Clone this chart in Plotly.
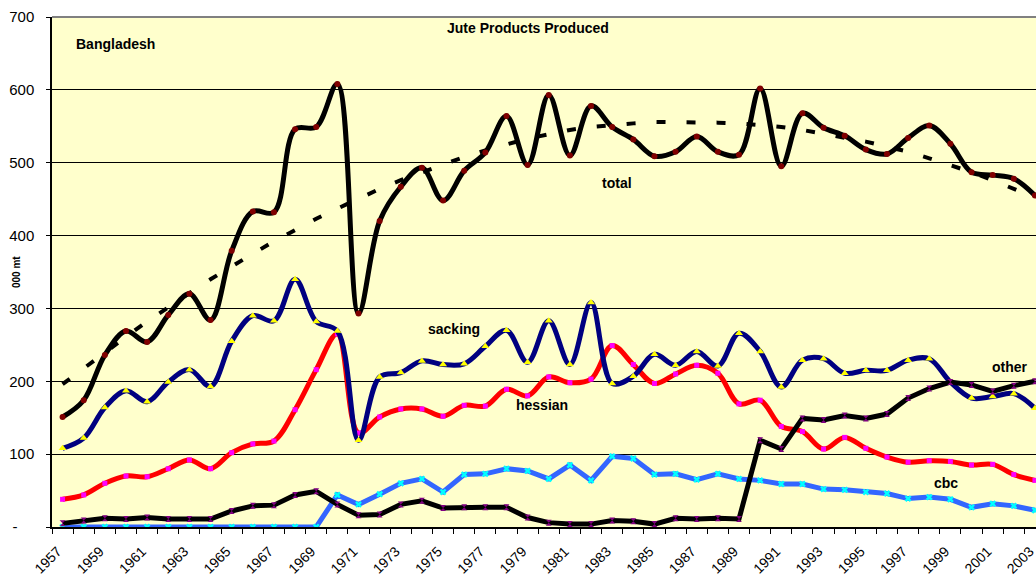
import plotly.graph_objects as go

years = list(range(1957, 2004))

total = [151, 174, 236, 269, 254, 291, 320, 284, 379, 433,
         432, 546, 549, 608, 293, 420, 467, 493, 448, 489,
         514, 564, 497, 593, 510, 578, 549, 532, 509, 515,
         536, 515, 511, 602, 495, 568, 548, 537, 518, 512,
         534, 551, 526, 487, 483, 478, 455]

trend = [196, 218, 240, 261, 282, 302, 321, 340, 358, 375,
         392, 408, 423, 437, 451, 464, 476, 487, 498, 508,
         517, 525, 533, 539, 545, 549, 552, 554, 556, 556,
         556, 555, 554, 552, 549, 545, 540, 535, 529, 522,
         515, 506, 497, 487, 476, 464, 452]

sacking = [108, 122, 164, 187, 172, 199, 216, 193, 255, 290,
           283, 340, 282, 269, 119, 206, 212, 228, 223, 224,
           248, 270, 226, 283, 223, 308, 197, 207, 237, 222,
           241, 221, 266, 241, 192, 229, 231, 211, 215, 215,
           229, 231, 199, 177, 179, 183, 163]

hessian = [38, 44, 60, 70, 69, 80, 92, 80, 102, 114,
           118, 161, 216, 265, 129, 151, 162, 162, 152, 167,
           166, 189, 180, 206, 198, 203, 249, 223, 197, 210,
           222, 211, 169, 174, 138, 131, 107, 123, 108, 96,
           89, 91, 90, 85, 86, 72, 64]

cbc = [0, 0, 0, 0, 0, 0, 0, 0, 0, 0,
       0, 0, 0, 44, 31, 45, 60, 66, 48, 72,
       73, 80, 77, 66, 85, 64, 97, 94, 72, 73,
       65, 73, 66, 64, 59, 59, 52, 51, 48, 46,
       39, 41, 38, 27, 32, 29, 23]

other = [5, 9, 12, 11, 13, 11, 11, 11, 22, 29,
         30, 44, 49, 31, 16, 17, 31, 36, 26, 27,
         27, 27, 13, 6, 4, 4, 9, 8, 4, 12,
         11, 12, 11, 119, 107, 149, 147, 153, 149, 155,
         177, 190, 199, 195, 186, 194, 200]

x_tick_years = list(range(1957, 2004, 2))
y_ticks = [0, 100, 200, 300, 400, 500, 600, 700]
y_tick_text = ["-\u00a0\u00a0\u00a0\u00a0", "100", "200", "300", "400", "500", "600", "700"]

FONT = "Liberation Sans, Arial, sans-serif"

fig = go.Figure()

fig.add_trace(go.Scatter(x=years, y=trend, mode="lines", name="trend",
                         line=dict(color="black", width=4, dash="9px,21px")))
fig.add_trace(go.Scatter(x=years, y=total, mode="lines+markers", name="total",
                         line=dict(color="black", width=5, shape="spline", smoothing=1),
                         marker=dict(color="#800000", size=6, symbol="circle")))
fig.add_trace(go.Scatter(x=years, y=hessian, mode="lines+markers", name="hessian",
                         line=dict(color="#FF0000", width=5, shape="spline", smoothing=1),
                         marker=dict(color="#FF00FF", size=5, symbol="square")))
fig.add_trace(go.Scatter(x=years, y=sacking, mode="lines+markers", name="sacking",
                         line=dict(color="#000080", width=5, shape="spline", smoothing=1),
                         marker=dict(color="#FFFF00", size=7, symbol="triangle-up")))
fig.add_trace(go.Scatter(x=years, y=cbc, mode="lines+markers", name="cbc",
                         line=dict(color="#3366FF", width=5),
                         marker=dict(color="#00FFFF", size=6, symbol="x")))
fig.add_trace(go.Scatter(x=years, y=other, mode="lines+markers", name="other",
                         line=dict(color="black", width=5),
                         marker=dict(color="#800080", size=6, symbol="hourglass")))

L, T, W, H = 52, 17, 984, 510


def px(xp, yp):
    return (xp - L) / W, (T + H - yp) / H


annots = [
    ("Jute Products Produced", 528, 28, 14, 0),
    ("Bangladesh", 115, 44, 14, 0),
    ("total", 617, 183, 14, 0),
    ("sacking", 454, 329, 14, 0),
    ("hessian", 542, 405, 14, 0),
    ("cbc", 946, 483, 14, 0),
    ("other", 1010, 367, 14, 0),
    ("000 mt", 16, 272, 10, -90),
]
annotations = []
for text, xp, yp, size, ang in annots:
    ax, ay = px(xp, yp)
    annotations.append(dict(text="<b>%s</b>" % text, x=ax, y=ay, xref="paper", yref="paper",
                            showarrow=False, xanchor="center", yanchor="middle",
                            textangle=ang, font=dict(size=size, color="black", family=FONT)))

fig.update_layout(
    width=1036, height=580,
    margin=dict(l=L, r=0, t=T, b=580 - T - H, pad=0, autoexpand=False),
    paper_bgcolor="white",
    plot_bgcolor="#FFFFCC",
    showlegend=False,
    font=dict(family=FONT, size=14, color="black"),
    annotations=annotations,
    shapes=[dict(type="line", xref="paper", yref="paper", x0=0, x1=1, y0=1, y1=1,
                 line=dict(color="#808080", width=2))],
)

fig.update_xaxes(
    range=[1956.5, 2003.05], automargin=False,
    tickmode="array", tickvals=x_tick_years, ticktext=[str(y) for y in x_tick_years],
    tickangle=-45, ticks="", showgrid=False, zeroline=False,
    showline=True, linecolor="black", linewidth=1.5,
    tickfont=dict(size=14, family=FONT),
    ticklabelstandoff=9, ticklabelshift=-5, ticklabeloverflow="allow",
    minor=dict(ticks="outside", tick0=1956.5, dtick=1, ticklen=5, tickcolor="black", tickwidth=1),
)
fig.update_yaxes(
    range=[0, 700], automargin=False,
    tickmode="array", tickvals=y_ticks, ticktext=y_tick_text,
    ticks="outside", ticklen=4, tickcolor="black",
    showgrid=True, gridcolor="black", gridwidth=1, zeroline=False,
    showline=True, linecolor="black", linewidth=1.5,
    tickfont=dict(size=15, family=FONT),
    ticklabelstandoff=9,
)

fig.write_html("out.html", config={"displayModeBar": False},
               post_script="document.body.style.margin='0';document.body.style.overflow='hidden';")
